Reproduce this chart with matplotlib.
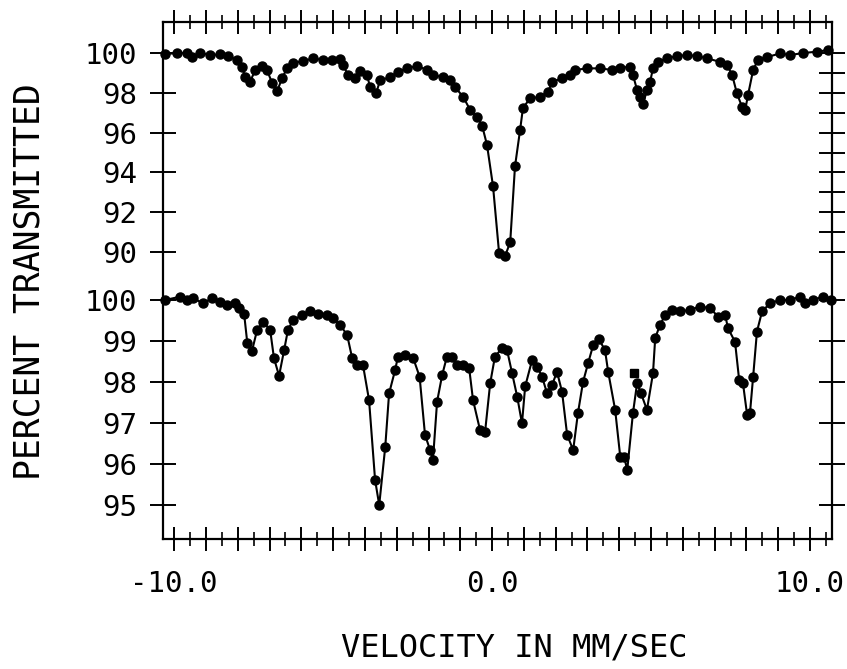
import numpy as np
import matplotlib.pyplot as plt
from matplotlib.ticker import MultipleLocator

# upper spectrum (velocity in mm/s, percent transmitted)
top_vel = [-10.28, -9.91, -9.59, -9.43, -9.18, -8.87, -8.55, -8.30, -8.02, -7.86,
           -7.77, -7.61, -7.45, -7.23, -7.08, -6.92, -6.76, -6.60, -6.45, -6.26,
           -5.94, -5.63, -5.31, -5.03, -4.78, -4.69, -4.53, -4.31, -4.15, -3.93,
           -3.84, -3.65, -3.52, -3.21, -2.96, -2.67, -2.36, -2.04, -1.86, -1.54,
           -1.32, -1.16, -0.91, -0.69, -0.47, -0.31, -0.16, 0.03, 0.22, 0.41,
           0.57, 0.72, 0.88, 0.97, 1.19, 1.51, 1.76, 1.89, 2.20, 2.45,
           2.61, 2.99, 3.40, 3.77, 4.03, 4.34, 4.43, 4.56, 4.65, 4.75,
           4.87, 4.97, 5.06, 5.22, 5.50, 5.82, 6.13, 6.45, 6.76, 7.17,
           7.39, 7.55, 7.70, 7.86, 7.96, 8.05, 8.21, 8.36, 8.65, 9.06,
           9.37, 9.78, 10.22, 10.57]
top_pct = [99.95, 100.0, 100.0, 99.8, 100.0, 99.9, 99.93, 99.85, 99.65, 99.3,
           98.8, 98.56, 99.15, 99.35, 99.15, 98.5, 98.1, 98.74, 99.25, 99.5,
           99.6, 99.73, 99.65, 99.65, 99.68, 99.4, 98.9, 98.73, 99.1, 98.9,
           98.28, 97.97, 98.64, 98.78, 99.06, 99.23, 99.35, 99.15, 98.9, 98.78,
           98.64, 98.28, 97.8, 97.14, 96.8, 96.33, 95.38, 93.3, 89.95, 89.8,
           90.5, 94.3, 96.13, 97.23, 97.72, 97.8, 98.05, 98.56, 98.73, 98.9,
           99.15, 99.23, 99.23, 99.15, 99.26, 99.31, 98.9, 98.14, 97.8, 97.44,
           98.14, 98.56, 99.23, 99.56, 99.73, 99.85, 99.9, 99.85, 99.73, 99.56,
           99.4, 98.9, 97.97, 97.3, 97.14, 97.9, 99.15, 99.65, 99.8, 99.98,
           99.9, 100.0, 100.07, 100.15]

# lower spectrum
bot_vel = [-10.28, -9.81, -9.59, -9.40, -9.09, -8.81, -8.55, -8.33, -8.08, -7.96,
           -7.80, -7.70, -7.55, -7.39, -7.20, -6.98, -6.86, -6.70, -6.54, -6.42,
           -6.26, -5.97, -5.72, -5.47, -5.19, -5.00, -4.78, -4.56, -4.40, -4.25,
           -4.06, -3.87, -3.68, -3.55, -3.36, -3.24, -3.05, -2.96, -2.74, -2.48,
           -2.28, -2.11, -1.95, -1.86, -1.73, -1.57, -1.42, -1.26, -1.10, -0.91,
           -0.72, -0.60, -0.38, -0.22, -0.06, 0.09, 0.31, 0.47, 0.63, 0.79,
           0.94, 1.04, 1.26, 1.42, 1.57, 1.73, 1.89, 2.04, 2.20, 2.36,
           2.55, 2.70, 2.86, 3.02, 3.18, 3.36, 3.55, 3.65, 3.87, 4.03,
           4.15, 4.25, 4.43, 4.56, 4.68, 4.87, 5.06, 5.13, 5.28, 5.44,
           5.66, 5.91, 6.23, 6.54, 6.86, 7.11, 7.33, 7.42, 7.64, 7.77,
           7.89, 8.02, 8.11, 8.21, 8.33, 8.49, 8.74, 9.06, 9.37, 9.69,
           9.84, 10.09, 10.41, 10.66]
bot_pct = [100.0, 100.08, 100.0, 100.04, 99.92, 100.04, 99.96, 99.88, 99.92, 99.8,
           99.67, 98.96, 98.76, 99.27, 99.47, 99.27, 98.58, 98.15, 98.78, 99.27,
           99.51, 99.63, 99.72, 99.67, 99.63, 99.55, 99.39, 99.15, 98.58, 98.41,
           98.41, 97.56, 95.61, 95.0, 96.42, 97.72, 98.29, 98.62, 98.66, 98.58,
           98.13, 96.71, 96.34, 96.1, 97.52, 98.17, 98.62, 98.62, 98.41, 98.41,
           98.33, 97.56, 96.83, 96.79, 97.97, 98.62, 98.82, 98.78, 98.21, 97.64,
           96.99, 97.89, 98.54, 98.37, 98.13, 97.72, 97.93, 98.25, 97.76, 96.71,
           96.34, 97.24, 98.0, 98.46, 98.9, 99.04, 98.78, 98.25, 97.32, 96.18,
           96.18, 95.85, 97.24, 97.97, 97.73, 97.32, 98.21, 99.07, 99.39, 99.63,
           99.76, 99.72, 99.76, 99.84, 99.8, 99.59, 99.63, 99.31, 98.98, 98.05,
           97.97, 97.2, 97.24, 98.13, 99.23, 99.72, 99.92, 100.0, 100.0, 100.08,
           99.92, 100.0, 100.08, 100.0]
# lone point lying off the lower curve
bot_extra_vel = [4.47]
bot_extra_pct = [98.21]

top_left_ticks = [90, 92, 94, 96, 98, 100]
top_right_ticks = list(range(90, 101))
bot_ticks = [95, 96, 97, 98, 99, 100]
vel_major = list(range(-10, 11))
vel_labels = {-10: '-10.0', 0: '0.0', 10: '10.0'}

plt.rcParams['font.family'] = 'DejaVu Sans Mono'

fig = plt.figure(figsize=(8.47, 6.69), dpi=100)
W, H = 847, 669
pos = [163 / W, 1 - 539 / H, (832 - 163) / W, (539 - 22) / H]
xlim = (-10.35, 10.69)

ax = fig.add_axes(pos)
ax.set_xlim(*xlim)
ax.set_ylim(75.58, 101.56)
for s in ax.spines.values():
    s.set_linewidth(1.6)

ax.set_xticks(vel_major)
ax.set_xticklabels([vel_labels.get(v, '') for v in vel_major])
ax.xaxis.set_minor_locator(MultipleLocator(0.5))
ax.tick_params(axis='x', which='major', direction='inout', length=17, width=1.4,
               top=True, bottom=True, labelsize=21, pad=14)
ax.tick_params(axis='x', which='minor', direction='inout', length=10, width=1.2,
               top=True, bottom=True)
ax.set_yticks(top_left_ticks)
ax.tick_params(axis='y', direction='inout', length=19, width=1.4, labelsize=21, pad=9)
ax.plot(top_vel, top_pct, color='black', lw=1.5, marker='o', ms=6.5, clip_on=False)

# right-hand ticks for the upper spectrum
axr = fig.add_axes(pos, frameon=False)
axr.set_xlim(*xlim)
axr.set_ylim(75.58, 101.56)
axr.set_xticks([])
axr.yaxis.tick_right()
axr.set_yticks(top_right_ticks)
axr.tick_params(axis='y', direction='inout', length=19, width=1.4, labelright=False)

# lower spectrum on its own scale
axb = fig.add_axes(pos, frameon=False)
axb.set_xlim(*xlim)
axb.set_ylim(94.17, 106.78)
axb.set_xticks([])
axb.set_yticks(bot_ticks)
axb.tick_params(axis='y', direction='inout', length=19, width=1.4, left=True, right=True,
                labelleft=True, labelright=False, labelsize=21, pad=9)
axb.plot(bot_vel, bot_pct, color='black', lw=1.5, marker='o', ms=6.5, clip_on=False)
axb.plot(bot_extra_vel, bot_extra_pct, color='black', marker='s', ms=6, ls='none')

fig.text(29 / W, 1 - 282 / H, 'PERCENT TRANSMITTED', rotation=90, ha='center', va='center',
         fontsize=25)
fig.text(514 / W, 1 - 648 / H, 'VELOCITY IN MM/SEC', ha='center', va='center', fontsize=23)

fig.savefig('out.png', dpi=100)
